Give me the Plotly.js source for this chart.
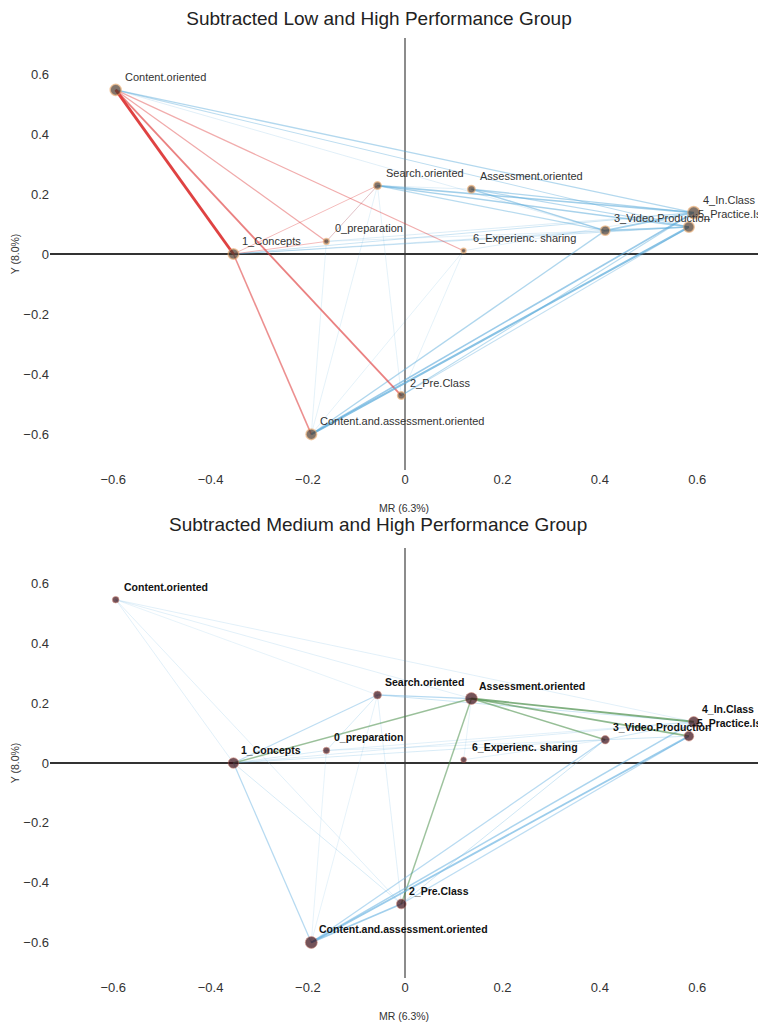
<!DOCTYPE html>
<html>
<head>
<meta charset="utf-8">
<script src="https://cdn.plot.ly/plotly-3.0.1.min.js"></script>
<style>html,body{margin:0;padding:0;background:#fff;}#chart{width:758px;height:1023px;}</style>
</head>
<body>
<div id="chart"></div>
<script>
// ---- data ----
var nodeNames = ["Content.oriented","1_Concepts","0_preparation","Search.oriented","Assessment.oriented",
  "6_Experienc. sharing","3_Video.Production","4_In.Class","5_Practice.Is","2_Pre.Class","Content.and.assessment.oriented"];
var nodeX = [-0.595,-0.353,-0.162,-0.057,0.136,0.120,0.411,0.593,0.583,-0.008,-0.193];
var nodeY = [0.547,0.000,0.042,0.228,0.216,0.011,0.078,0.138,0.090,-0.472,-0.601];
// node weights (relative frequency) per panel
var nodeWeightLow = [0.9,0.85,0.3,0.5,0.5,0.2,0.7,1.0,0.85,0.5,0.85];
var nodeWeightMed = [0.4,0.85,0.4,0.55,1.0,0.3,0.6,0.85,0.75,0.75,1.0];

// edges: from, to, signed difference
var edgeFromLow = [0,0,1,0,0,1,1,3, 0,0,0,3,3,3,4,4,4,6,6,10,10,10,9,9,1,1,1,2,2,5,4,10,10,9,9,10,2];
var edgeToLow   = [1,9,10,2,5,2,3,2, 7,8,6,7,8,6,7,8,6,7,8,7,8,6,7,8,7,8,6,7,6,7,3,3,2,3,5,5,3];
var edgeValLow  = [1.0,0.55,0.45,0.3,0.28,0.2,0.2,0.15,
  -0.32,-0.25,-0.1,-0.45,-0.4,-0.28,-0.35,-0.3,-0.4,-0.45,-0.45,-0.5,-0.65,-0.35,-0.28,-0.22,-0.18,-0.18,-0.14,-0.12,-0.1,-0.1,-0.1,-0.08,-0.08,-0.08,-0.08,-0.08,-0.08];

var edgeFromMed = [4,4,4,4,4, 10,10,10,10,10,9,9,3,3,3,3,1,1,1,1,0,0,0,0,0,2,2,5,4,3,10,10,7,6,6];
var edgeToMed   = [7,8,6,1,9, 8,7,9,6,1,8,6,4,1,7,2,2,6,7,9,4,7,1,9,3,7,6,6,5,9,3,2,8,7,8];
var edgeValMed  = [0.6,0.5,0.45,0.42,0.4,
  -0.55,-0.42,-0.5,-0.32,-0.32,-0.28,-0.18,-0.32,-0.28,-0.18,-0.14,-0.14,-0.14,-0.12,-0.14,-0.1,-0.1,-0.1,-0.1,-0.08,-0.1,-0.1,-0.1,-0.08,-0.1,-0.08,-0.08,-0.18,-0.18,-0.18];

var xTicks = [-0.6,-0.4,-0.2,0,0.2,0.4,0.6];
var yTicks = [-0.6,-0.4,-0.2,0,0.2,0.4,0.6];
var titleTop = "Subtracted Low and High Performance Group";
var titleBottom = "Subtracted Medium and High Performance Group";
var xTitle = "MR (6.3%)";
var yTitle = "Y (8.0%)";

// ---- build ----
var FONT = "Liberation Sans, Arial, sans-serif";
var traces = [];
function edgeTraces(from, to, val, xa, ya, posRGB, negRGB) {
  var idx = val.map(function(v,i){return i;}).sort(function(a,b){return Math.abs(val[a])-Math.abs(val[b]);});
  idx.forEach(function(i){
    var w = Math.abs(val[i]);
    var rgb = val[i] > 0 ? posRGB : negRGB;
    var a = 0.12 + 0.85*Math.pow(w,0.8);
    traces.push({
      type:"scatter", mode:"lines", xaxis:xa, yaxis:ya, hoverinfo:"skip",
      x:[nodeX[from[i]], nodeX[to[i]]], y:[nodeY[from[i]], nodeY[to[i]]],
      line:{color:"rgba("+rgb+","+a.toFixed(3)+")", width:0.5+2.4*w}
    });
  });
}
edgeTraces(edgeFromLow, edgeToLow, edgeValLow, "x", "y", "222,60,60", "90,170,218");
edgeTraces(edgeFromMed, edgeToMed, edgeValMed, "x2", "y2", "70,140,70", "100,176,224");

traces.push({type:"scatter", mode:"markers", xaxis:"x", yaxis:"y", x:nodeX, y:nodeY, text:nodeNames, hoverinfo:"text",
  marker:{size:nodeWeightLow.map(function(w){return 3+9*w;}), color:"#4e3a2c", line:{color:"rgba(235,160,90,0.75)", width:1.5}}});
traces.push({type:"scatter", mode:"markers", xaxis:"x2", yaxis:"y2", x:nodeX, y:nodeY, text:nodeNames, hoverinfo:"text",
  marker:{size:nodeWeightMed.map(function(w){return 3+9*w;}), color:"#3a0b14", line:{color:"rgba(205,110,90,0.6)", width:1}}});

var annotations = [];
nodeNames.forEach(function(n,i){
  annotations.push({x:nodeX[i], y:nodeY[i], xref:"x", yref:"y", text:n, showarrow:false,
    xanchor:"left", yanchor:"middle", xshift:7, yshift:13, font:{family:FONT, size:11, color:"#333"}});
  annotations.push({x:nodeX[i], y:nodeY[i], xref:"x2", yref:"y2", text:"<b>"+n+"</b>", showarrow:false,
    xanchor:"left", yanchor:"middle", xshift:6, yshift:13, font:{family:FONT, size:10.5, color:"#111"}});
});
annotations.push({xref:"paper", yref:"paper", x:0.463, y:0.482, xanchor:"center", yanchor:"middle",
  text:titleBottom, showarrow:false, font:{family:FONT, size:19, color:"#222"}});

function xAxis(anchor){ return {anchor:anchor, domain:[0,1], range:[-0.73,0.725], tickvals:xTicks,
  showgrid:false, showline:false, ticks:"", zeroline:true, zerolinecolor:"#8c8c8c", zerolinewidth:2,
  tickfont:{family:FONT, size:13, color:"#333"}, title:{text:xTitle, font:{family:FONT, size:10.5, color:"#333"}}}; }
function yAxis(anchor, dom){ return {anchor:anchor, domain:dom, range:[-0.72,0.72], tickvals:yTicks,
  showgrid:false, showline:false, ticks:"", zeroline:true, zerolinecolor:"#333", zerolinewidth:1.2,
  tickfont:{family:FONT, size:13, color:"#333"}, title:{text:yTitle, font:{family:FONT, size:10.5, color:"#333"}}}; }

var layout = {
  width:758, height:1023, margin:{l:50, r:0, t:38, b:45},
  paper_bgcolor:"#fff", plot_bgcolor:"#fff", showlegend:false,
  title:{text:titleTop, x:0.5, xref:"container", xanchor:"center", y:1-18/1023, yref:"container", yanchor:"middle",
    font:{family:FONT, size:19, color:"#222"}},
  xaxis:xAxis("y"), yaxis:yAxis("x",[0.5404,1]),
  xaxis2:xAxis("y2"), yaxis2:yAxis("x2",[0,0.4574]),
  annotations:annotations
};
Plotly.newPlot("chart", traces, layout, {displayModeBar:false, staticPlot:true});
</script>
</body>
</html>
